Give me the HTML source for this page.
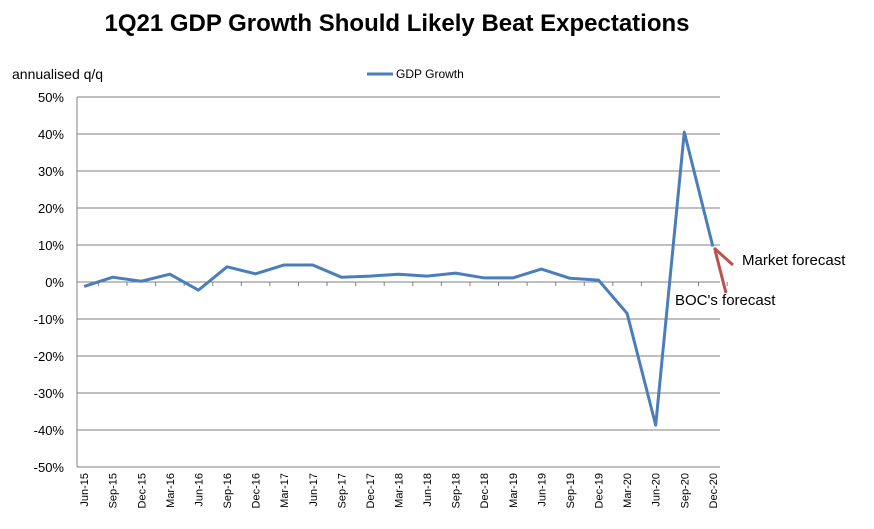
<!DOCTYPE html>
<html><head><meta charset="utf-8"><style>
body{margin:0;background:#fff;}
svg{display:block;font-family:"Liberation Sans",Arial,sans-serif;}
</style></head><body>
<svg id="c" width="874" height="529">
<text x="397" y="31" font-size="24" font-weight="bold" text-anchor="middle">1Q21 GDP Growth Should Likely Beat Expectations</text>
<text x="12" y="79" font-size="14">annualised q/q</text>
<g><line x1="367" y1="74" x2="393" y2="74" stroke="#4a7ebb" stroke-width="3"/><text x="396" y="78" font-size="12">GDP Growth</text></g>
<g id="grid"></g><g id="ax"></g><g id="ser"></g>
<g stroke="#c0504d" stroke-width="3" fill="none">
<line x1="714" y1="248" x2="733" y2="265"/><line x1="715" y1="250" x2="726" y2="293"/>
</g>
<text x="742" y="265" font-size="15">Market forecast</text>
<text x="675" y="305" font-size="15">BOC's forecast</text>
</svg>
<script>
const categories=["Jun-15","Sep-15","Dec-15","Mar-16","Jun-16","Sep-16","Dec-16","Mar-17","Jun-17","Sep-17","Dec-17","Mar-18","Jun-18","Sep-18","Dec-18","Mar-19","Jun-19","Sep-19","Dec-19","Mar-20","Jun-20","Sep-20","Dec-20"];
const gdpGrowth=[-1.2,1.3,0.2,2.1,-2.2,4.1,2.2,4.6,4.6,1.3,1.6,2.1,1.6,2.4,1.1,1.1,3.5,1.0,0.5,-8.5,-38.7,40.5,9.6];
const yTicks=[50,40,30,20,10,0,-10,-20,-30,-40,-50];
const L=77,R=720,T=97,B=467,NS="http://www.w3.org/2000/svg";
const n=categories.length,step=(R-L)/(n-0.5);
const xs=i=>L+step*(i+0.25);
const ys=v=>T+(50-v)/100*(B-T);
function mk(t,a,p){const e=document.createElementNS(NS,t);for(const k in a)e.setAttribute(k,a[k]);p.appendChild(e);return e;}
const g=document.getElementById('grid'),ax=document.getElementById('ax'),s=document.getElementById('ser');
yTicks.forEach(v=>{const y=ys(v);
const l=mk('line',{x1:L,x2:R,y1:y,y2:y,stroke:'#808080','stroke-width':1},g);


const t=mk('text',{x:L-13,y:y+5,'font-size':13,'text-anchor':'end'},ax);t.textContent=v+'%';


});
mk('line',{x1:L,x2:L,y1:T,y2:B,stroke:'#808080'},ax);
const z=ys(0);
categories.forEach((c,i)=>{const x=xs(i);
mk('line',{x1:x+step/2,x2:x+step/2,y1:z,y2:z+4,stroke:'#808080'},ax);
const t=mk('text',{x:0,y:0,'font-size':11,'text-anchor':'end',transform:`translate(${x+4},${B+6}) rotate(-90)`},ax);t.textContent=c;


});
const p=mk('polyline',{points:gdpGrowth.map((v,i)=>xs(i)+','+ys(v)).join(' '),fill:'none',stroke:'#4a7ebb','stroke-width':3,'stroke-linejoin':'round'},s);


</script>
</body></html>
